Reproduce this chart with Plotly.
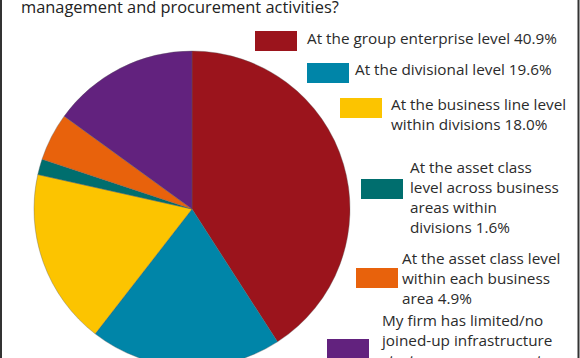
import plotly.graph_objects as go

W, H = 580, 370   # figure is slightly taller than the 358px window; the bottom is cut like the reference

# ---- data ----
categories = [
    "At the group enterprise level",
    "At the divisional level",
    "At the business line level within divisions",
    "At the asset class level across business areas within divisions",
    "At the asset class level within each business area",
    "My firm has limited/no joined-up infrastructure strategy, management or procurement",
]
values = [40.9, 19.6, 18.0, 1.6, 4.9, 15.0]
legend_labels = [
    "At the group enterprise level 40.9%",
    "At the divisional level 19.6%",
    "At the business line level<br>within divisions 18.0%",
    "At the asset class<br>level across business<br>areas within<br>divisions 1.6%",
    "At the asset class level<br>within each business<br>area 4.9%",
    "My firm has limited/no<br>joined-up infrastructure<br>strategy, management or<br>procurement 15.0%",
]
colors = ["#9b141c", "#0085a8", "#fcc400", "#006e6e", "#e8620c", "#62227e"]
title_text = "management and procurement activities?"

# legend layout (pixels from top-left): box left, box top, text left, text centre y
legend_pos = [
    (255, 31, 307, 38),
    (307, 63, 355, 69),
    (340, 98, 391, 114),
    (361, 179, 410, 197),
    (356, 268, 402, 278),
    (327, 339, 381, 350),
]

FONT = "Open Sans"
TXT = "#2b2b2b"

def px(x):
    return x / W

def py(y):
    return 1 - y / H

cx, cy, r = 192, 209, 158
fig = go.Figure(
    go.Pie(
        labels=categories,
        values=values,
        sort=False,
        direction="clockwise",
        rotation=0,
        textinfo="none",
        marker=dict(colors=colors, line=dict(color="rgba(90,90,90,0.6)", width=0.6)),
        domain=dict(x=[px(cx - r), px(cx + r)], y=[py(cy + r), py(cy - r)]),
        showlegend=False,
        hoverinfo="label+percent",
    )
)

shapes = []
annotations = []
for (bx, by, tx, ty), lab, col in zip(legend_pos, legend_labels, colors):
    shapes.append(dict(type="rect", xref="paper", yref="paper",
                       x0=px(bx), x1=px(bx + 42), y0=py(by), y1=py(by + 20),
                       fillcolor=col, line=dict(width=0)))
    annotations.append(dict(xref="paper", yref="paper", x=px(tx), y=py(ty),
                            xanchor="left", yanchor="middle", align="left",
                            text=lab, showarrow=False, borderpad=0, borderwidth=0,
                            font=dict(family=FONT, size=15.3, color=TXT)))

annotations.append(dict(xref="paper", yref="paper", x=px(21), y=py(6.5),
                        xanchor="left", yanchor="middle", align="left",
                        text=title_text, showarrow=False, borderpad=0, borderwidth=0,
                        font=dict(family=FONT, size=16.4, color="#222222")))

# frame lines left and right
shapes.append(dict(type="line", xref="paper", yref="paper", x0=px(1), x1=px(1), y0=0, y1=1,
                   line=dict(color="#333333", width=2)))
shapes.append(dict(type="line", xref="paper", yref="paper", x0=px(578.5), x1=px(578.5), y0=0, y1=1,
                   line=dict(color="#333333", width=2)))

fig.update_layout(
    width=W, height=H,
    margin=dict(l=0, r=0, t=0, b=0),
    paper_bgcolor="white", plot_bgcolor="white",
    shapes=shapes, annotations=annotations,
    font=dict(family=FONT),
)

fig.write_html(
    "out.html",
    config={"displayModeBar": False},
    post_script=(
        "document.body.style.margin='0';"
        "document.body.style.overflow='hidden';"
        "document.documentElement.style.overflow='hidden';"
    ),
)
